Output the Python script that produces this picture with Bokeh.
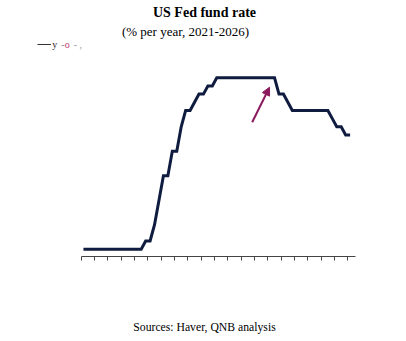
from bokeh.plotting import figure
from bokeh.models import Range1d, FixedTicker, Arrow, NormalHead, Label, ColumnDataSource
from bokeh.layouts import column
from bokeh.embed import file_html
from bokeh.resources import INLINE

# ---- data: monthly US Fed funds target midpoint, Jan 2021 .. Jan 2026 ----
months = [f"{y}-{m:02d}" for y in range(2021, 2026) for m in range(1, 13)] + ["2026-01"]
rate = [
    # 2021
    0.125, 0.125, 0.125, 0.125, 0.125, 0.125, 0.125, 0.125, 0.125, 0.125, 0.125, 0.125,
    # 2022
    0.125, 0.125, 0.375, 0.375, 0.875, 1.625, 2.375, 2.375, 3.125, 3.125, 3.875, 4.375,
    # 2023
    4.375, 4.625, 4.875, 4.875, 5.125, 5.125, 5.375, 5.375, 5.375, 5.375, 5.375, 5.375,
    # 2024
    5.375, 5.375, 5.375, 5.375, 5.375, 5.375, 5.375, 5.375, 4.875, 4.875, 4.625, 4.375,
    # 2025
    4.375, 4.375, 4.375, 4.375, 4.375, 4.375, 4.375, 4.375, 4.125, 3.875, 3.875, 3.625,
    # 2026
    3.625,
]
month_index = list(range(len(months)))
# quarter boundaries used as tick marks (no labels shown)
quarter_ticks = [i - 0.5 for i in range(0, len(months), 3)]

title_text = "US Fed fund rate"
subtitle_text = "(% per year, 2021-2026)"
source_text = "Sources: Haver, QNB analysis"

NAVY = "#0f1c3f"
MAGENTA = "#8b1a5e"

src = ColumnDataSource(dict(x=month_index, y=rate, month=months))

p = figure(width=406, height=276,
           x_range=Range1d(-18.658, 72.69), y_range=Range1d(-0.101, 7.744),
           output_backend="svg", toolbar_location=None,
           min_border=0, min_border_left=0, min_border_right=0, min_border_top=0,
           min_border_bottom=20, y_axis_location=None)
p.outline_line_color = None
p.xgrid.visible = False
p.ygrid.visible = False
p.background_fill_color = "white"
p.border_fill_color = "white"

ax = p.xaxis[0]
ax.ticker = FixedTicker(ticks=quarter_ticks)
ax.bounds = (-0.5, 61.2)
ax.major_label_overrides = {t: "" for t in quarter_ticks}
ax.major_label_standoff = 0
ax.major_tick_in = 0
ax.major_tick_out = 4
ax.minor_tick_line_color = None
ax.axis_line_color = "#444444"
ax.major_tick_line_color = "#444444"
ax.axis_line_width = 1

p.line("x", "y", source=src, line_color=NAVY, line_width=3, line_join="miter")

# arrow annotation pointing at the peak plateau end
p.add_layout(Arrow(x_start=37.97, y_start=4.015, x_end=41.87, y_end=5.087,
                   line_color=MAGENTA, line_width=2,
                   end=NormalHead(size=8, fill_color=MAGENTA, line_color=MAGENTA)))

# faint legend remnant at top-left
p.line([-10.33, -7.3], [6.396, 6.396], line_color="#333333", line_width=1)
p.add_layout(Label(x=-7.0, y=6.396, text="y", text_color="#222222", text_font="Liberation Serif",
                   text_font_size="10px", text_baseline="middle"))
p.add_layout(Label(x=-5.0, y=6.396, text="-", text_color="#888888", text_font="Liberation Serif",
                   text_font_size="10px", text_baseline="middle"))
p.add_layout(Label(x=-4.2, y=6.396, text="o", text_color="#c04070", text_font="Liberation Serif",
                   text_font_size="10px", text_baseline="middle"))
p.add_layout(Label(x=-2.2, y=6.396, text="-  ,", text_color="#999999", text_font="Liberation Serif",
                   text_font_size="10px", text_baseline="middle"))

p.add_layout(Label(x=27.24, y=7.377, text=title_text, text_font="Liberation Serif",
                   text_font_style="bold", text_font_size="14px", text_align="center",
                   text_baseline="middle", text_color="black"))
p.add_layout(Label(x=22.97, y=6.794, text=subtitle_text, text_font="Liberation Serif",
                   text_font_size="13px", text_align="center",
                   text_baseline="middle", text_color="black"))

# footer strip with the source note
foot = figure(width=406, height=65, x_range=Range1d(0, 406), y_range=Range1d(0, 65),
              output_backend="svg", toolbar_location=None, min_border=0,
              x_axis_location=None, y_axis_location=None)
foot.outline_line_color = None
foot.xgrid.visible = False
foot.ygrid.visible = False
foot.add_layout(Label(x=204, y=14, text=source_text, text_font="Liberation Serif",
                      text_font_size="11.7px", text_align="center",
                      text_baseline="middle", text_color="black"))

layout = column(p, foot, spacing=0)
open("out.html", "w").write(file_html(layout, INLINE))
